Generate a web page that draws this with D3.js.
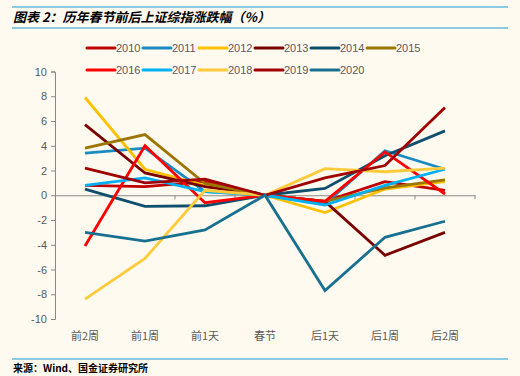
<!DOCTYPE html>
<html>
<head>
<meta charset="utf-8">
<script src="https://cdn.jsdelivr.net/npm/d3@7"></script>
<style>
  body { margin: 0; background: #fffaf0; }
  svg { display: block; }
</style>
</head>
<body>
<svg id="chart" width="520" height="376"></svg>
<script>
// categories / tick labels
var periods = ['前2周', '前1周', '前1天', '春节', '后1天', '后1周', '后2周'];
var yTicks = [10, 8, 6, 4, 2, 0, -2, -4, -6, -8, -10];

// series values (%)
var years = ['2010', '2011', '2012', '2013', '2014', '2015', '2016', '2017', '2018', '2019', '2020'];
var v2010 = [0.8, 0.7, 1.1, 0, -0.5, 1.1, 0.4];
var v2011 = [3.4, 3.8, 0.3, 0, -0.7, 3.6, 2.1];
var v2012 = [7.9, 2.1, 0.8, 0, -1.4, 0.5, 1.1];
var v2013 = [5.7, 1.8, 0.7, 0, -0.5, -4.85, -3.0];
var v2014 = [0.5, -0.9, -0.85, 0, 0.55, 3.2, 5.2];
var v2015 = [3.8, 4.9, 0.95, 0, -0.5, 0.6, 1.25];
var v2016 = [-4.1, 4.0, -0.6, 0, -0.5, 3.5, 0.1];
var v2017 = [0.8, 1.4, 0.3, 0, -0.8, 0.8, 2.1];
var v2018 = [-8.4, -5.1, 0.4, 0, 2.15, 1.9, 2.2];
var v2019 = [2.2, 1.0, 1.3, 0, 1.4, 2.4, 7.1];
var v2020 = [-3.0, -3.7, -2.8, 0, -7.7, -3.4, -2.1];

var colors = ['#c00000', '#1a8bc0', '#ffc000', '#7a0000', '#0e4f6d', '#9c7500',
              '#ff0000', '#00b0f0', '#ffcb3a', '#a00000', '#17708f'];

var series = [v2010, v2011, v2012, v2013, v2014, v2015, v2016, v2017, v2018, v2019, v2020]
  .map(function (vals, i) { return { name: years[i], values: vals, color: colors[i] }; });

var svg = d3.select('#chart');

// title band
svg.append('line').attr('x1', 12).attr('x2', 508).attr('y1', 7).attr('y2', 7)
  .attr('stroke', '#1a9ad6').attr('stroke-width', 1);
svg.append('line').attr('x1', 12).attr('x2', 508).attr('y1', 28).attr('y2', 28)
  .attr('stroke', '#1a9ad6').attr('stroke-width', 1);
svg.append('text').attr('x', 13).attr('y', 22)
  .style('font-family', '"Noto Sans CJK SC", sans-serif')
  .style('font-size', '13px').style('font-weight', 'bold').style('font-style', 'italic')
  .attr('fill', '#000')
  .text('图表 2：历年春节前后上证综指涨跌幅（%）');

// footer
svg.append('line').attr('x1', 12).attr('x2', 508).attr('y1', 359).attr('y2', 359)
  .attr('stroke', '#1a9ad6').attr('stroke-width', 1);
svg.append('text').attr('x', 13).attr('y', 372)
  .style('font-family', '"Noto Sans CJK SC", sans-serif')
  .style('font-size', '10px').style('font-weight', 'bold')
  .attr('fill', '#000')
  .text('来源：Wind、国金证券研究所');

var x = d3.scaleBand().domain(periods).range([55, 475]);
var y = d3.scaleLinear().domain([-10, 10]).range([319, 71.5]);

// y axis
var yAxis = svg.append('g').attr('transform', 'translate(55,0)')
  .call(d3.axisLeft(y).tickValues(yTicks).tickSize(4).tickPadding(4)
    .tickFormat(function (d) { return String(d); }));
yAxis.select('.domain').attr('stroke', '#888');
yAxis.selectAll('.tick line').attr('stroke', '#888');
yAxis.selectAll('.tick text').attr('fill', '#595959')
  .style('font-family', '"Liberation Sans", Arial, sans-serif').style('font-size', '11px');

// x axis drawn on zero line, tick marks at band edges
var xAxis = svg.append('g').attr('transform', 'translate(0,' + y(0) + ')')
  .call(d3.axisBottom(x).tickSize(0).tickSizeOuter(0));
xAxis.select('.domain').attr('stroke', '#888');
xAxis.selectAll('.tick text').remove();
xAxis.selectAll('.edge').data(d3.range(1, periods.length + 1)).enter().append('line')
  .attr('x1', function (i) { return 55 + i * x.bandwidth(); })
  .attr('x2', function (i) { return 55 + i * x.bandwidth(); })
  .attr('y1', 0).attr('y2', 4).attr('stroke', '#888');

// category labels at bottom
svg.append('g').selectAll('text').data(periods).enter().append('text')
  .attr('x', function (d) { return x(d) + x.bandwidth() / 2; })
  .attr('y', 340)
  .attr('text-anchor', 'middle')
  .attr('fill', '#595959')
  .style('font-family', '"Noto Sans CJK SC", sans-serif').style('font-size', '11px')
  .text(function (d) { return d; });

// lines
var line = d3.line()
  .x(function (d, i) { return x(periods[i]) + x.bandwidth() / 2; })
  .y(function (d) { return y(d); });

svg.append('g').selectAll('path').data(series).enter().append('path')
  .attr('d', function (s) { return line(s.values); })
  .attr('fill', 'none')
  .attr('stroke', function (s) { return s.color; })
  .attr('stroke-width', 2.8)
  .attr('stroke-linejoin', 'miter');

// legend, two rows of six/five
var legend = svg.append('g').selectAll('g').data(series).enter().append('g')
  .attr('transform', function (s, i) {
    return 'translate(' + (87 + (i % 6) * 56) + ',' + (i < 6 ? 48 : 70) + ')';
  });
legend.append('line').attr('x1', 0).attr('x2', 28).attr('y1', 0).attr('y2', 0)
  .attr('stroke', function (s) { return s.color; }).attr('stroke-width', 3)
  .attr('stroke-linecap', 'round');
legend.append('text').attr('x', 29).attr('y', 4)
  .attr('fill', '#595959')
  .style('font-family', '"Liberation Sans", Arial, sans-serif').style('font-size', '11px')
  .text(function (s) { return s.name; });
</script>
</body>
</html>
